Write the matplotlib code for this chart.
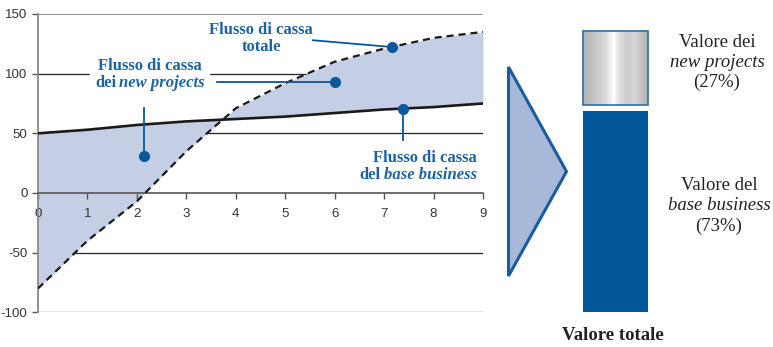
import numpy as np
import matplotlib.pyplot as plt
from matplotlib.patches import Polygon, Rectangle
from matplotlib.transforms import offset_copy

plt.rcParams["axes.unicode_minus"] = False

# cash flows by year
years = np.arange(10)
base_flow = [50, 53, 57, 60, 62, 64, 67, 70, 72, 75]
total_flow = [-80, -40, -7, 35, 71, 92, 110, 121, 130, 135]
y_ticks = [-100, -50, 0, 50, 100, 150]

# split of total value
share_names = ["base business", "new projects"]
share_values = [73, 27]

BLUE_TEXT = "#1c63a5"
BLUE_MARK = "#0b579b"
BAR_BLUE = "#02579a"
FILL = "#c4cfe5"
SERIF = "Liberation Serif"
SANS = "Liberation Sans"

W, H = 773, 347
fig = plt.figure(figsize=(W / 100, H / 100), dpi=100)
renderer = fig.canvas.get_renderer()


def px_axes(x0, y0, x1, y1):
    """Axes positioned by pixel box (top-left origin)."""
    return fig.add_axes([x0 / W, 1 - y1 / H, (x1 - x0) / W, (y1 - y0) / H])


def rich_line(axis, x, y, pieces, ha="center", **kw):
    """Draw a line of text made of (string, style) pieces, like 'dei' + italic 'new projects'."""
    texts = [axis.text(x, y, s, style=st, ha="left", va="center", **kw) for s, st in pieces]
    widths = [t.get_window_extent(renderer).width for t in texts]
    gap = kw.get("fontsize", 10) * 0.26
    total = sum(widths) + gap * (len(texts) - 1)
    start = {"center": -total / 2, "right": -total, "left": 0}[ha]
    for t, w in zip(texts, widths):
        t.set_transform(offset_copy(axis.transData, fig, x=start, y=0, units="dots"))
        start += w + gap


# ---- cash flow chart ----
ax = px_axes(38, 14, 483, 312.3)
ax.set_xlim(0, 9)
ax.set_ylim(-100, 150)
ax.patch.set_visible(False)

for v in y_ticks:
    if v == 0:
        continue
    if v == 150:
        ax.axhline(v, color="#8a8a8a", lw=1.3, zorder=0)
    else:
        ax.axhline(v, color="#222222", lw=0.9, zorder=0)

ax.fill_between(years, base_flow, total_flow, color=FILL, lw=0, zorder=1)
ax.plot(years, base_flow, color="#1a1a1a", lw=1.9, zorder=3)
ax.plot(years, total_flow, color="#1a1a1a", lw=1.6, ls=(0, (3.2, 2.2)), zorder=3)

for side in ["top", "right"]:
    ax.spines[side].set_visible(False)
ax.spines["left"].set_color("#8a8a8a")
ax.spines["left"].set_linewidth(1.3)
ax.spines["bottom"].set_position(("data", 0))
ax.spines["bottom"].set_color("#555555")
ax.spines["bottom"].set_linewidth(1.2)
ax.set_yticks(y_ticks)
ax.set_xticks(years)
ax.tick_params(axis="both", colors="#555555", labelcolor="#333333",
               labelsize=9.5, length=4, width=1)
ax.tick_params(axis="x", pad=7)
for lab in ax.get_xticklabels() + ax.get_yticklabels():
    lab.set_fontfamily(SANS)

# pointer dots and leader lines
x_np, y_np = 2.15, 31
ax.plot([x_np, x_np], [y_np, 71], color=BLUE_MARK, lw=1.3, zorder=4)
ax.plot(x_np, y_np, "o", color=BLUE_MARK, ms=7, zorder=5)

x_np2 = 6.01
y_np2 = 93
ax.plot([3.62, x_np2], [y_np2, y_np2], color=BLUE_MARK, lw=1.3, zorder=4)
ax.plot(x_np2, y_np2, "o", color=BLUE_MARK, ms=7, zorder=5)

x_tot = 7.15
y_tot = np.interp(x_tot, years, total_flow)
ax.plot([5.56, x_tot], [128, y_tot], color=BLUE_MARK, lw=1.3, zorder=4)
ax.plot(x_tot, y_tot, "o", color=BLUE_MARK, ms=7, zorder=5)

x_base = 7.38
y_base = np.interp(x_base, years, base_flow)
ax.plot([x_base, x_base], [y_base, 44], color=BLUE_MARK, lw=1.3, zorder=4)
ax.plot(x_base, y_base, "o", color=BLUE_MARK, ms=7, zorder=5)

# ---- overlay in pixel units for labels and the arrow ----
ov = fig.add_axes([0, 0, 1, 1])
ov.set_xlim(0, W)
ov.set_ylim(H, 0)
ov.axis("off")
ov.patch.set_visible(False)

ov.add_patch(Rectangle((90, 58), 119, 33, color="white", zorder=1))

label_kw = dict(fontfamily=SERIF, fontweight="bold", color=BLUE_TEXT, fontsize=12, zorder=2)
rich_line(ov, 150, 66, [("Flusso di cassa", "normal")], **label_kw)
rich_line(ov, 150, 83, [("dei", "normal"), ("new projects", "italic")], **label_kw)
rich_line(ov, 261, 30, [("Flusso di cassa", "normal")], **label_kw)
rich_line(ov, 261, 47, [("totale", "normal")], **label_kw)
rich_line(ov, 477, 158, [("Flusso di cassa", "normal")], ha="right", **label_kw)
rich_line(ov, 477, 175, [("del", "normal"), ("base business", "italic")], ha="right", **label_kw)

ov.add_patch(Polygon([(508.5, 67), (566.5, 171.5), (508.5, 276)], closed=True,
                     facecolor="#a7b8d9", edgecolor="#1a5c9c", lw=2.2, zorder=1))

# ---- stacked value bar ----
gap = 2
axb = px_axes(583, 31, 648, 311.7)
axb.set_xlim(-0.5, 0.5)
axb.set_ylim(0, sum(share_values) + gap)
axb.axis("off")
axb.bar(0, share_values[0], width=1, bottom=0, color=BAR_BLUE, lw=0)
top_bar = axb.bar(0, share_values[1], width=1, bottom=share_values[0] + gap,
                  facecolor="none", edgecolor="#2a6fb0", lw=1.2, zorder=3, clip_on=False)[0]
stops = [0.0, 0.15, 0.35, 0.48, 0.55, 0.68, 0.8, 1.0]
greys = [0.70, 0.76, 0.86, 1.0, 0.88, 0.80, 0.84, 0.70]
profile = np.interp(np.linspace(0, 1, 200), stops, greys)
img = axb.imshow(np.tile(profile, (2, 1)), cmap="gray", vmin=0, vmax=1, aspect="auto",
                 extent=(-0.5, 0.5, share_values[0] + gap, sum(share_values) + gap), zorder=2)
img.set_clip_path(top_bar)

txt_kw = dict(fontfamily=SERIF, color="#222222", fontsize=13.5)
rich_line(ov, 717, 42, [("Valore dei", "normal")], **txt_kw)
rich_line(ov, 717, 62, [("new projects", "italic")], **txt_kw)
rich_line(ov, 717, 82, [(f"({share_values[1]}%)", "normal")], **txt_kw)
rich_line(ov, 719, 185, [("Valore del", "normal")], **txt_kw)
rich_line(ov, 719, 205, [("base business", "italic")], **txt_kw)
rich_line(ov, 719, 226, [(f"({share_values[0]}%)", "normal")], **txt_kw)
rich_line(ov, 613, 335, [("Valore totale", "normal")], fontfamily=SERIF, fontweight="bold",
          color="#222222", fontsize=13.5)

fig.savefig("out.png", dpi=100)
